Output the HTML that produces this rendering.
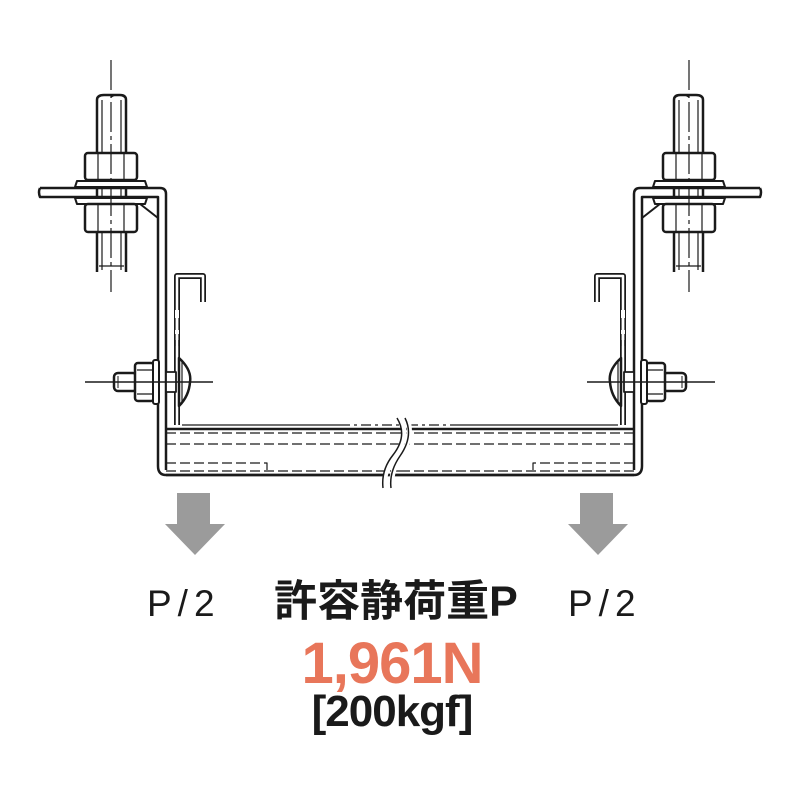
<!DOCTYPE html>
<html><head><meta charset="utf-8"><style>
html,body{margin:0;padding:0;background:#fff}
svg{display:block}
</style></head><body>
<svg width="800" height="800" viewBox="0 0 800 800" xmlns="http://www.w3.org/2000/svg">
<defs>
<g id="half" fill="none" stroke="#1a1a1a" stroke-linejoin="round">
  <path d="M97 272 L97 100 Q97 95 104 95 L120 95 Q126 95 126 100 L126 272" fill="#fff" stroke-width="2.5"/>
  <path d="M102 100 L102 270 M121 100 L121 270" stroke-width="1.2"/>
  <path d="M111 97 Q118 92 126 98" stroke-width="1.5"/>
  <path d="M99 266 L124 266" stroke-width="1.2"/>
  <rect x="85" y="153" width="52" height="27" rx="3" fill="#fff" stroke-width="2.5"/>
  <path d="M98 153 L98 180 M124 153 L124 180" stroke-width="1.2"/>
  <path d="M77 181 L145 181 L147 187 L75 187 Z" fill="#fff" stroke-width="2"/>
  <path d="M40 188 L160 188 Q166 188 166 194 L166 470" stroke-width="2.5"/>
  <path d="M40 188 Q38 192 40 197 L158 197 L158 466 Q158 475 166 475 L634 475" stroke-width="2.5"/>
  <path d="M135 200 L158 218" stroke-width="2"/>
  <path d="M75 198 L147 198 L145 204 L77 204 Z" fill="#fff" stroke-width="2"/>
  <rect x="85" y="204" width="52" height="28" rx="3" fill="#fff" stroke-width="2.5"/>
  <path d="M98 204 L98 232 M124 204 L124 232" stroke-width="1.2"/>
  <path d="M111 60 L111 292" stroke-width="1.2" stroke-dasharray="30 4 4 4"/>
  <path d="M177 425 L177 276 L203 276 L203 302" stroke-width="6"/>
  <path d="M177 425 L177 276 L203 276 L203 302" stroke="#fff" stroke-width="2.5"/>
  <path d="M177 310 L177 340" stroke="#fff" stroke-width="4"/>
  <path d="M175 318 L175 330 M179 318 L179 330 M175 334 L175 346 M179 334 L179 346" stroke-width="1.2"/>
  <rect x="114" y="373" width="23" height="18" rx="4" fill="#fff" stroke-width="2.5"/>
  <path d="M118 376 L118 388" stroke-width="1"/>
  <rect x="135" y="363" width="19" height="38" rx="3" fill="#fff" stroke-width="2.5"/>
  <path d="M137 370 L152 370 M137 394 L152 394" stroke-width="1.2"/>
  <rect x="153" y="360" width="6" height="44" rx="2" fill="#fff" stroke-width="2"/>
  <rect x="166" y="372" width="10" height="20" fill="#fff" stroke-width="1.8"/>
  <path d="M179 358 Q192 370 190 382 Q189 396 179 406 Z" fill="#fff" stroke-width="2.5"/>
  <path d="M182 362 L182 402" stroke-width="1.2"/>
  <path d="M85 382 L213 382" stroke-width="1.5"/>
  <path d="M166 429 L400 429" stroke-width="2.5"/>
  <path d="M182 425 L340 425" stroke-width="1.2"/>
  <path d="M340 425 L400 425" stroke-width="1.2" stroke-dasharray="10 4 3 4"/>
  <path d="M166 433 L400 433 M166 444 L400 444 M166 471 L400 471" stroke-width="1.2" stroke-dasharray="10 4"/>
  <path d="M166 463 L267 463 L267 471" stroke-width="1.2" stroke-dasharray="10 4"/>
  <path d="M166 452 L166 460" stroke-width="1"/>
</g>
</defs>
<use href="#half"/>
<use href="#half" transform="translate(800,0) scale(-1,1)"/>
<path d="M400 418 Q410 435 395 455 Q383 470 385 488 M407 418 Q414 436 401 456 Q390 472 392 488" fill="none" stroke="#fff" stroke-width="5"/>
<path d="M397 418 Q408 436 393 455 Q381 470 383 488 M405 418 Q414 436 400 456 Q389 472 391 488" fill="none" stroke="#1a1a1a" stroke-width="1.5"/>
<path d="M177 493 L210 493 L210 524 L225 524 L195 555 L165 524 L177 524 Z" fill="#9b9b9b"/>
<path d="M580 493 L613 493 L613 524 L628 524 L598 555 L568 524 L580 524 Z" fill="#9b9b9b"/>
<g font-family="Liberation Sans, 'Noto Sans CJK JP', sans-serif" fill="#1a1a1a">
<text x="147" y="616" font-size="37" letter-spacing="6">P/2</text>
<text x="568" y="616" font-size="37" letter-spacing="6">P/2</text>
<text x="396" y="616" font-size="43" font-weight="bold" text-anchor="middle">許容静荷重P</text>
<text x="392" y="683" font-size="58" font-weight="bold" text-anchor="middle" fill="#e8765a" letter-spacing="-1">1,961N</text>
<text x="392" y="726" font-size="44" font-weight="bold" text-anchor="middle" letter-spacing="-1">[200kgf]</text>
</g>
</svg>
</body></html>
